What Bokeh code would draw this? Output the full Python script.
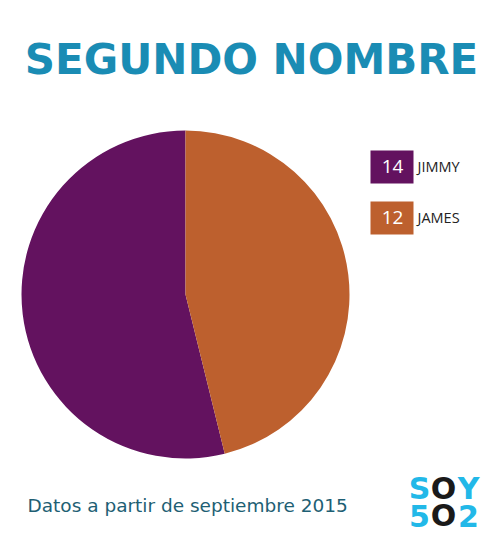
import math
from bokeh.plotting import figure
from bokeh.models import Range1d
from bokeh.core.properties import value
from bokeh.embed import file_html
from bokeh.resources import INLINE

names = ["JIMMY", "JAMES"]
counts = [14, 12]
colors = ["#63125F", "#BD602E"]
title = "SEGUNDO NOMBRE"
footer = "Datos a partir de septiembre 2015"

total = sum(counts)
starts, ends = [], []
acc = 0
for c in counts:
    starts.append(math.pi / 2 + 2 * math.pi * acc / total)
    acc += c
    ends.append(math.pi / 2 + 2 * math.pi * acc / total)

W, H = 484, 540
p = figure(width=W, height=H, output_backend="svg", toolbar_location=None,
           x_range=Range1d(0, W), y_range=Range1d(556 - H, 556),
           min_border=0)
p.axis.visible = False
p.grid.visible = False
p.outline_line_color = None
p.background_fill_color = "white"

def Y(img_y):
    return 556 - img_y

p.wedge(x=185, y=Y(294), radius=164, start_angle=starts, end_angle=ends,
        fill_color=colors, line_color=None)

p.text(x=[251], y=[Y(59)], text=[title], text_font=value("DejaVu Sans"),
       text_font_style="bold", text_font_size="42px", text_color="#1A8CB4",
       text_align="center", text_baseline="alphabetic")

box_y = [166.5, 217.5]
for i, (n, c) in enumerate(zip(names, counts)):
    p.rect(x=391.5, y=Y(box_y[i]), width=43, height=33, fill_color=colors[i], line_color=None)
    p.text(x=[392], y=[Y(box_y[i] - 1)], text=[str(c)], text_font=value("Open Sans"),
           text_font_size="19px", text_color="white", text_align="center",
           text_baseline="middle")
    p.text(x=[417], y=[Y(box_y[i] - 1)], text=[n], text_font=value("Open Sans"),
           text_font_size="14.5px", text_color="#222222", text_align="left",
           text_baseline="middle")

p.text(x=[27], y=[Y(505)], text=[footer], text_font=value("DejaVu Sans"),
       text_font_size="18.5px", text_color="#1E5F74", text_align="left",
       text_baseline="alphabetic")

logo = [("S", 419, 488, "#22B8E8"), ("O", 443, 488, "#1a1a1a"), ("Y", 468, 488, "#22B8E8"),
        ("5", 419, 515, "#22B8E8"), ("O", 443, 515, "#1a1a1a"), ("2", 468, 515, "#22B8E8")]
for ch, lx, ly, col in logo:
    p.text(x=[lx], y=[Y(ly)], text=[ch], text_font=value("DejaVu Sans"), text_font_style="bold",
           text_font_size="30px", text_color=col, text_align="center", text_baseline="alphabetic")

open("out.html", "w").write(file_html(p, INLINE))
